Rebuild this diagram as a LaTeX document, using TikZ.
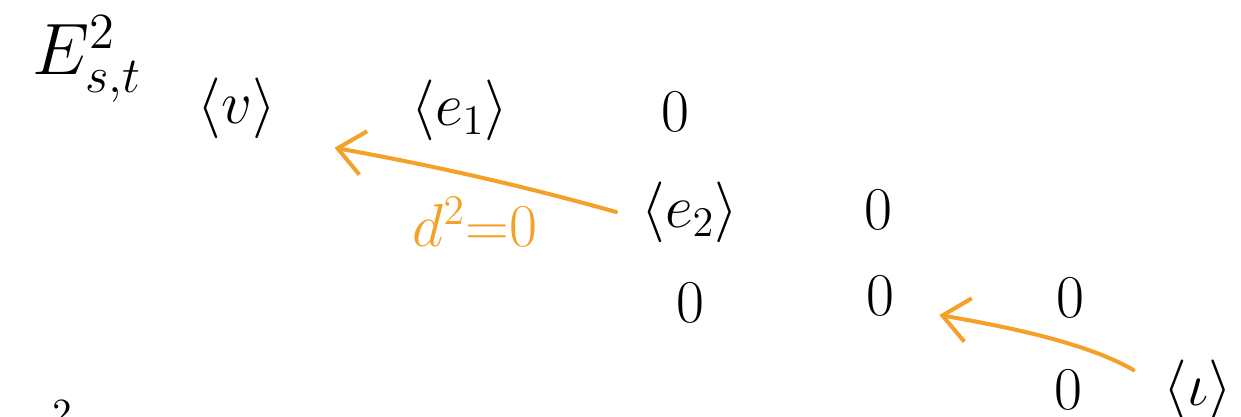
\documentclass[tikz,border=0pt]{standalone}
\usepackage{amsmath,amssymb}
\usetikzlibrary{arrows.meta}
\definecolor{dorange}{RGB}{245,160,40}

\begin{document}
\begin{tikzpicture}[line cap=round, line join=round,
    entry/.style={font=\fontsize{17}{20}\selectfont},
    dtwo/.style={dorange, line width=1.15pt,
      -{Straight Barb[length=2.6mm, width=4.4mm, line width=1.15pt]}}]
  \clip (0,0) rectangle (12.41,4.17);
  \useasboundingbox (0,0) rectangle (12.41,4.17);
  \node[entry, font=\fontsize{21}{25}\selectfont, anchor=north west] (page) at (0.20,4.14) {$E^2_{s,t}$};
  \node[entry, font=\fontsize{11}{13}\selectfont, anchor=north, inner sep=0pt] (next) at (0.62,0.17) {$2$};
  % first row
  \node[entry] (v)  at (2.37,3.09) {$\langle v\rangle$};
  \node[entry] (e1) at (4.60,3.07) {$\langle e_1\rangle$};
  \node[entry] (z1) at (6.75,3.05) {$0$};
  % second row
  \node[entry] (e2) at (6.90,2.05) {$\langle e_2\rangle$};
  \node[entry] (z2) at (8.78,2.07) {$0$};
  % third row
  \node[entry] (z3) at (6.90,1.14) {$0$};
  \node[entry] (z4) at (8.80,1.21) {$0$};
  \node[entry] (z5) at (10.70,1.19) {$0$};
  % fourth row
  \node[entry] (z6) at (10.68,0.27) {$0$};
  \node[entry] (f)  at (11.98,0.27) {$\langle \iota\rangle$};
  % differentials
  \draw[dtwo] ([xshift=-1.3mm]e2.west)
    .. controls (5.2,2.32) and (4.3,2.52) .. ([xshift=4.6mm, yshift=0.3mm]v.south east);
  \node[entry, dorange] (dlabel) at (4.75,1.95) {$d^2{=}0$};
  \draw[dtwo] ([shift={(-1.8mm,2mm)}]f.west)
    .. controls (10.9,0.72) and (10.2,0.88) .. ([shift={(3.3mm,-1.9mm)}]z4.east);
\end{tikzpicture}
\end{document}
